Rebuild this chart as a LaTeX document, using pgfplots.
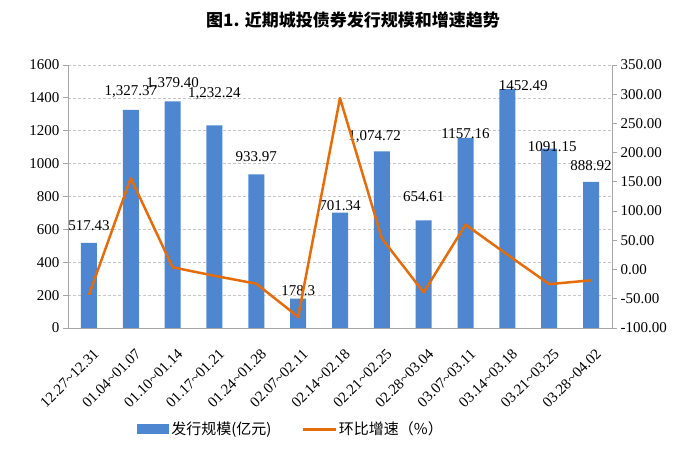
\documentclass[border=0pt]{standalone}
\usepackage{fontspec}
\setmainfont{Liberation Serif}
\newfontfamily\cjk{Noto Sans CJK SC}
\usepackage{pgfplots}
\pgfplotsset{compat=1.18}
\definecolor{barblue}{HTML}{4E86CF}
\definecolor{lineorange}{HTML}{E46C0A}
\definecolor{axgray}{HTML}{A6A6A6}

\pgfplotsset{
  base/.style={
    scale only axis, width=544pt, height=263pt,
    xmin=-0.5, xmax=12.5,
    tick label style={font=\fontsize{15}{15}\selectfont},
    /pgf/number format/assume math mode=true,
    axis line style={axgray, line width=0.8pt},
    tick align=outside, major tick length=5pt, minor tick length=5pt,
    tick style={axgray, line width=0.8pt},
  }
}

\begin{document}
\begin{tikzpicture}
\path[use as bounding box] (-68pt,-134pt) rectangle (632pt,328pt);
\node[font=\cjk\bfseries\fontsize{17}{17}\selectfont] at (285pt,308pt) {图1. 近期城投债券发行规模和增速趋势};

\begin{axis}[base,
  ymin=0, ymax=1600, ytick={0,200,...,1600},
  axis y line*=left, axis x line*=bottom,
  ymajorgrids, grid style={densely dashed, gray!45, line width=0.6pt},
  xtick={0,...,12},
  xticklabels={12.27\textasciitilde12.31,01.04\textasciitilde01.07,01.10\textasciitilde01.14,
    01.17\textasciitilde01.21,01.24\textasciitilde01.28,02.07\textasciitilde02.11,
    02.14\textasciitilde02.18,02.21\textasciitilde02.25,02.28\textasciitilde03.04,
    03.07\textasciitilde03.11,03.14\textasciitilde03.18,03.21\textasciitilde03.25,
    03.28\textasciitilde04.02},
  xticklabel style={anchor=east, inner sep=0pt, xshift=7.5pt, yshift=-18.5pt, rotate=45,
    font=\fontsize{15}{15}\selectfont},
  minor xtick={-0.5,0.5,...,12.5},
  xtick style={draw=none},
  minor x tick style={axgray, line width=0.8pt},
  /pgf/number format/1000 sep={},
  legend style={at={(0.41,-0.385)}, anchor=center, draw=none,
    font=\cjk\fontsize{15}{15}\selectfont, legend columns=2,
    /tikz/every even column/.append style={column sep=28pt}},
]
\addplot[ybar, bar width=16pt, fill=barblue, draw=none,
  legend image code/.code={\fill[barblue] (0pt,-5pt) rectangle (32pt,5pt);}]
  coordinates {
  (0,517.43) (1,1327.37) (2,1379.40) (3,1232.24) (4,933.97) (5,178.3) (6,701.34)
  (7,1074.72) (8,654.61) (9,1157.16) (10,1452.49) (11,1091.15) (12,888.92)
};
\addlegendentry{发行规模(亿元)}
\addlegendimage{legend image code/.code={\draw[lineorange, line width=2.5pt] (0pt,0pt) -- (33pt,0pt);}}
\addlegendentry{环比增速（\%）}
% data labels, placed as in the reference
\addplot[draw=none, mark=none, forget plot, nodes near coords, point meta=explicit symbolic,
  nodes near coords align=center,
  every node near coord/.append style={font=\fontsize{15}{15}\selectfont, inner sep=0pt}]
  coordinates {
  (0,620)[517.43] (1,1436)[{1,327.37}] (2,1485)[{1,379.40}] (3,1424)[{1,232.24}]
  (4,1040)[933.97] (5,225)[178.3] (6,742)[701.34] (6.83,1162)[{1,074.72}]
  (8,797)[654.61] (9,1180)[1157.16] (10.38,1472)[1452.49] (11.07,1101)[1091.15]
  (12,986)[888.92]
};
\end{axis}

\begin{axis}[base,
  ymin=-100, ymax=350, ytick={-100,-50,...,350},
  axis y line*=right, axis x line=none,
  yticklabel style={/pgf/number format/.cd, fixed, fixed zerofill, precision=2},
]
\addplot[lineorange, line width=2.5pt, line join=round, mark=none] coordinates {
  (0,-43.6) (1,156.5) (2,3.9) (3,-10.7) (4,-24.2) (5,-80.9) (6,293.4)
  (7,53.2) (8,-39.1) (9,76.8) (10,25.5) (11,-24.9) (12,-18.5)
};
\end{axis}
\end{tikzpicture}
\end{document}
